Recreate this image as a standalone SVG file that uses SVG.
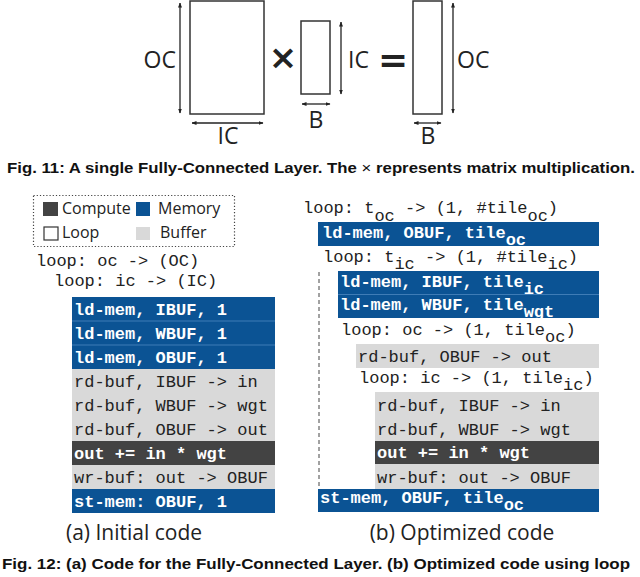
<svg xmlns="http://www.w3.org/2000/svg" width="640" height="577" viewBox="0 0 640 577">
<defs>
<marker id="ah" viewBox="0 0 10 10" refX="9" refY="5" markerWidth="5" markerHeight="5" orient="auto-start-reverse" markerUnits="userSpaceOnUse"><path d="M0,1 L10,5 L0,9 z" fill="#222"/></marker>
<style>
.mat{fill:#fff;stroke:#333;stroke-width:1.5}
.dim{stroke:#222;stroke-width:1.3;fill:none;marker-start:url(#ah);marker-end:url(#ah)}
.lbl{font-family:"Open Sans","DejaVu Sans",sans-serif;font-size:23px;fill:#222}
.leg{font-family:"Open Sans","DejaVu Sans",sans-serif;font-size:16px;fill:#222}
.cap{font-family:"Liberation Sans",Arial,sans-serif;font-weight:bold;font-size:15.5px;fill:#111}
.sub{font-family:"Open Sans","DejaVu Sans",sans-serif;font-size:21px;fill:#222}
.code{font-family:"Liberation Mono","Courier New",monospace;font-size:17px;fill:#222;white-space:pre}
.wb{font-family:"Liberation Mono","Courier New",monospace;font-size:17px;font-weight:bold;fill:#fff;white-space:pre}
.mem{fill:#0b5394}
.cmp{fill:#434343}
.buf{fill:#d9d9d9}
.sep{stroke:#3f7cb6;stroke-width:1}
</style>
</defs>
<rect width="640" height="577" fill="#fff"/>

<!-- Fig 11 -->
<g id="matA"><rect class="mat" x="190" y="1" width="74" height="113"/>
<text class="lbl" x="176" y="68" text-anchor="end">OC</text>
<text class="lbl" x="228" y="144" text-anchor="middle">IC</text></g>
<g id="times"><text x="283" y="69" text-anchor="middle" font-family="DejaVu Sans,sans-serif" font-weight="bold" font-size="34" fill="#222">×</text></g>
<g id="matB"><rect class="mat" x="301" y="21" width="29" height="73"/>
<text class="lbl" x="348" y="68">IC</text>
<text class="lbl" x="316" y="128" text-anchor="middle">B</text></g>
<g id="equals"><text x="393" y="72" text-anchor="middle" font-family="DejaVu Sans,sans-serif" font-weight="bold" font-size="36" fill="#222">=</text></g>
<g id="matC"><rect class="mat" x="413" y="1" width="29" height="113"/>
<text class="lbl" x="457" y="68">OC</text>
<text class="lbl" x="428" y="144" text-anchor="middle">B</text></g>
<g id="dims">
<line class="dim" x1="180" y1="3" x2="180" y2="113"/>
<line class="dim" x1="192" y1="123" x2="263" y2="123"/>
<line class="dim" x1="341" y1="22" x2="341" y2="94"/>
<line class="dim" x1="302" y1="104" x2="330" y2="104"/>
<line class="dim" x1="453" y1="3" x2="453" y2="113"/>
<line class="dim" x1="414" y1="123" x2="441" y2="123"/>
</g>
<text class="cap" x="7" y="173" textLength="628" lengthAdjust="spacingAndGlyphs">Fig. 11: A single Fully-Connected Layer. The <tspan font-weight="normal">×</tspan> represents matrix multiplication.</text>

<!-- Legend -->
<g id="legend">
<rect x="33.5" y="195.5" width="201" height="51" fill="none" stroke="#444" stroke-width="1.2" stroke-dasharray="1.2,2"/>
<rect class="cmp" x="43" y="202" width="15" height="14"/>
<text class="leg" x="62" y="214">Compute</text>
<rect class="mem" x="136" y="202" width="14" height="14"/>
<text class="leg" x="158" y="214">Memory</text>
<rect x="44" y="227" width="14" height="13" fill="#fff" stroke="#333" stroke-width="1.2"/>
<text class="leg" x="62" y="238">Loop</text>
<rect class="buf" x="136" y="227" width="14" height="13"/>
<text class="leg" x="160" y="238">Buffer</text>
</g>

<!-- (a) Initial code -->
<g id="codeA">
<text class="code" x="36" y="266">loop: oc -&gt; (OC)</text>
<text class="code" x="54" y="286">loop: ic -&gt; (IC)</text>
<rect class="mem" x="72" y="297" width="203" height="72"/>
<rect class="buf" x="72" y="369" width="203" height="72"/>
<rect class="cmp" x="72" y="441" width="203" height="24"/>
<rect class="buf" x="72" y="465" width="203" height="24"/>
<rect class="mem" x="72" y="489" width="203" height="24"/>
<line class="sep" x1="72" y1="321" x2="275" y2="321"/>
<line class="sep" x1="72" y1="345" x2="275" y2="345"/>
<text class="wb" x="74" y="315">ld-mem, IBUF, 1</text>
<text class="wb" x="74" y="339">ld-mem, WBUF, 1</text>
<text class="wb" x="74" y="363">ld-mem, OBUF, 1</text>
<text class="code" x="74" y="387">rd-buf, IBUF -&gt; in</text>
<text class="code" x="74" y="411">rd-buf, WBUF -&gt; wgt</text>
<text class="code" x="74" y="435">rd-buf, OBUF -&gt; out</text>
<text class="wb" x="74" y="459">out += in * wgt</text>
<text class="code" x="74" y="483">wr-buf: out -&gt; OBUF</text>
<text class="wb" x="74" y="507">st-mem: OBUF, 1</text>
</g>

<!-- (b) Optimized code -->
<g id="codeB">
<line x1="319" y1="272" x2="319" y2="489" stroke="#444" stroke-width="1" stroke-dasharray="4,3"/>
<text class="code" x="303" y="213">loop: t<tspan dy="8">oc</tspan><tspan dy="-8"> -&gt; (1, #tile</tspan><tspan dy="8">oc</tspan><tspan dy="-8">)</tspan></text>
<rect class="mem" x="318" y="222" width="281" height="24"/>
<text class="wb" x="322" y="238">ld-mem, OBUF, tile<tspan dy="7">oc</tspan></text>
<text class="code" x="323" y="262">loop: t<tspan dy="7">ic</tspan><tspan dy="-7"> -&gt; (1, #tile</tspan><tspan dy="7">ic</tspan><tspan dy="-7">)</tspan></text>
<rect class="mem" x="338" y="271" width="261" height="47"/>
<line class="sep" x1="338" y1="294.5" x2="599" y2="294.5"/>
<text class="wb" x="340" y="287">ld-mem, IBUF, tile<tspan dy="7">ic</tspan></text>
<text class="wb" x="340" y="310">ld-mem, WBUF, tile<tspan dy="7">wgt</tspan></text>
<text class="code" x="341" y="335">loop: oc -&gt; (1, tile<tspan dy="7">oc</tspan><tspan dy="-7">)</tspan></text>
<rect class="buf" x="356" y="344" width="243" height="24"/>
<text class="code" x="358" y="362">rd-buf, OBUF -&gt; out</text>
<text class="code" x="359" y="383">loop: ic -&gt; (1, tile<tspan dy="7">ic</tspan><tspan dy="-7">)</tspan></text>
<rect class="buf" x="375" y="392" width="224" height="49"/>
<rect class="cmp" x="375" y="441" width="224" height="23"/>
<rect class="buf" x="375" y="464" width="224" height="25"/>
<text class="code" x="377" y="411">rd-buf, IBUF -&gt; in</text>
<text class="code" x="377" y="435">rd-buf, WBUF -&gt; wgt</text>
<text class="wb" x="377" y="458">out += in * wgt</text>
<text class="code" x="377" y="483">wr-buf: out -&gt; OBUF</text>
<rect class="mem" x="318" y="489" width="281" height="23"/>
<text class="wb" x="320" y="503">st-mem, OBUF, tile<tspan dy="7">oc</tspan></text>
</g>

<text class="sub" x="134" y="540" text-anchor="middle">(a) Initial code</text>
<text class="sub" x="462" y="540" text-anchor="middle">(b) Optimized code</text>
<text class="cap" x="2" y="569" textLength="628" lengthAdjust="spacingAndGlyphs">Fig. 12: (a) Code for the Fully-Connected Layer. (b) Optimized code using loop</text>
</svg>
